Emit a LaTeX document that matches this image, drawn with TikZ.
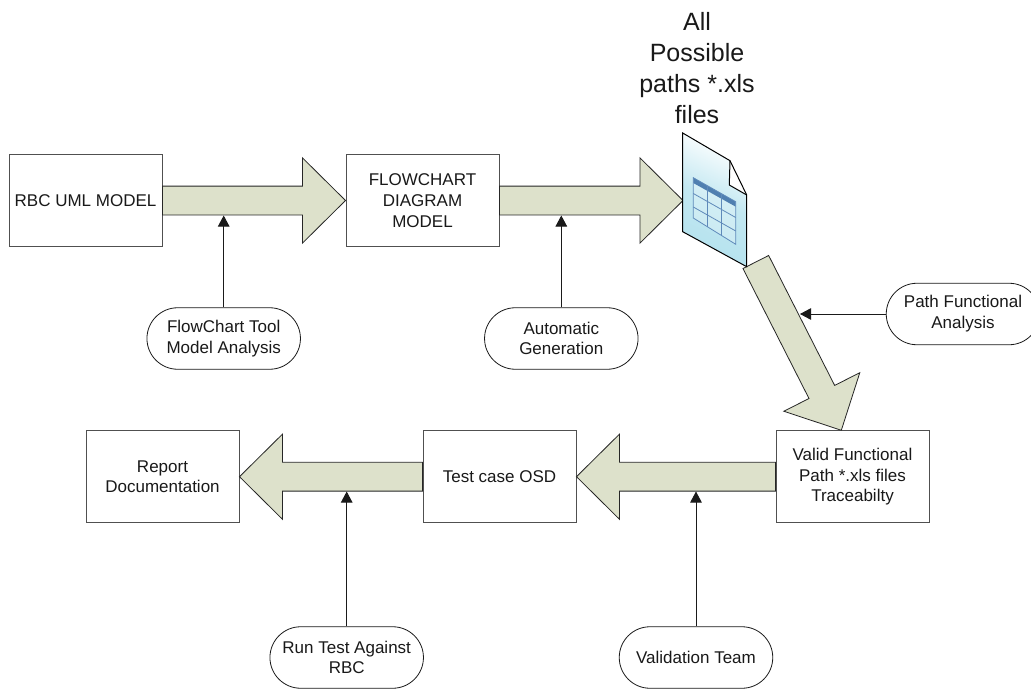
\documentclass[tikz,border=0pt]{standalone}
\usepackage{fontspec}
\setmainfont{Liberation Sans}
\usetikzlibrary{calc,arrows.meta,shapes.misc}
\definecolor{edge}{HTML}{1A1A1A}
\definecolor{boxedge}{HTML}{505050}
\definecolor{fatfill}{HTML}{DDE1CB}
\definecolor{docblue}{HTML}{B4E2EE}
\definecolor{tabline}{HTML}{5F8ABA}
\definecolor{tabhead}{HTML}{4F7FB0}
\newcommand{\fatarrow}[2]{%
  \draw[fatstyle]
    ($(#1)!14.4pt!90:(#2)$) --
    ($($(#2)!43pt!(#1)$)!14.4pt!90:(#2)$) --
    ($($(#2)!43pt!(#1)$)!42.6pt!90:(#2)$) --
    (#2) --
    ($($(#2)!43pt!(#1)$)!42.6pt!-90:(#2)$) --
    ($($(#2)!43pt!(#1)$)!14.4pt!-90:(#2)$) --
    ($(#1)!14.4pt!-90:(#2)$) -- cycle;}
\tikzset{
  x=1pt,y=-1pt,
  txt/.style={font=\fontsize{17}{20.8}\selectfont,align=center,text=black!90,inner sep=0pt},
  boxnode/.style={txt,draw=boxedge,line width=1pt,fill=white,minimum width=153pt,minimum height=91.5pt},
  pill/.style={txt,draw=edge,line width=0.8pt,fill=white,rounded rectangle,minimum width=153.5pt,minimum height=61.5pt},
  fatstyle/.style={draw=black!85,line width=0.8pt,fill=fatfill,line join=miter},
  feed/.style={draw=edge,line width=0.9pt,-{Triangle[length=11pt,width=11.5pt]}},
  doclines/.style={draw=tabline,line width=0.8pt}
}
\begin{document}
\begin{tikzpicture}
\useasboundingbox (0,0) rectangle (1031,690);
\fill[white] (0,0) rectangle (1031,690);
% boxes
\node[boxnode] (rbc) at (85.5,200.5) {RBC UML MODEL};
\node[boxnode] (flow) at (422.5,200.5) {FLOWCHART\\DIAGRAM\\MODEL};
\node[boxnode] (valid) at (852.5,476.7) {Valid Functional\\Path *.xls files\\Traceabilty};
\node[boxnode] (osd) at (499.5,476.7) {Test case OSD};
\node[boxnode] (report) at (162.5,476.7) {Report\\Documentation};
% pills
\node[pill] (tool) at (223.7,338.5) {FlowChart Tool\\Model Analysis};
\node[pill] (auto) at (561.3,338.5) {Automatic\\Generation};
\node[pill] (pathf) at (963,314) {Path Functional\\Analysis};
\node[pill] (run) at (346.7,657.5) {Run Test Against\\RBC};
\node[pill] (team) at (696,657.5) {Validation Team};
% title
\node[align=center,inner sep=0pt,font=\fontsize{25}{31}\selectfont,text=black!90] (title) at (697,68) {All\\Possible\\paths *.xls\\files};
% fat arrows
\coordinate (doctip) at (683,200.5);
\coordinate (diagstart) at (755.8,262);
\coordinate (diagtip) at (841.3,430.3);
\fatarrow{rbc.east}{flow.west}
\fatarrow{flow.east}{doctip}
\fatarrow{diagstart}{diagtip}
\fatarrow{valid.west}{osd.east}
\fatarrow{osd.west}{report.east}
% feeders
\coordinate (a1) at (223.7,215.5);
\coordinate (a2) at (561.3,215.5);
\coordinate (a3) at (800,314);
\coordinate (a4) at (346.7,491.5);
\coordinate (a5) at (696,491.5);
\draw[feed] (tool.north) -- (a1);
\draw[feed] (auto.north) -- (a2);
\draw[feed] (pathf.west) -- (a3);
\draw[feed] (run.north) -- (a4);
\draw[feed] (team.north) -- (a5);
% document icon
\shade[bottom color=docblue,top color=white,middle color=docblue!80,shading angle=-25]
  (682.7,133) -- (730,160.7) -- (746.7,195) -- (746.7,266.7) -- (682.7,231.7) -- cycle;
\fill[white] (730,160.7) -- (729.3,185) -- (746.7,195) -- cycle;
\fill[white,opacity=0.25] (693.3,177.7) -- (735.7,201.7) -- (735.7,244.3) -- (693.3,218) -- cycle;
\fill[tabhead] (693.3,177.7) -- (735.7,201.7) -- (735.7,206.7) -- (693.3,183) -- cycle;
\draw[doclines] (693.3,177.7) -- (735.7,201.7) -- (735.7,244.3) -- (693.3,218) -- cycle;
\draw[doclines] (693.3,193.5) -- (735.7,217.5);
\draw[doclines] (693.3,207) -- (735.7,231);
\draw[doclines] (707.5,186) -- (707.5,227);
\draw[doclines] (721.5,194) -- (721.5,236);
\draw[black,line width=1pt,line join=miter]
  (682.7,133) -- (730,160.7) -- (746.7,195) -- (746.7,266.7) -- (682.7,231.7) -- cycle;
\draw[black,line width=1pt] (730,160.7) -- (729.3,185) -- (746.7,195);
\end{tikzpicture}
\end{document}
